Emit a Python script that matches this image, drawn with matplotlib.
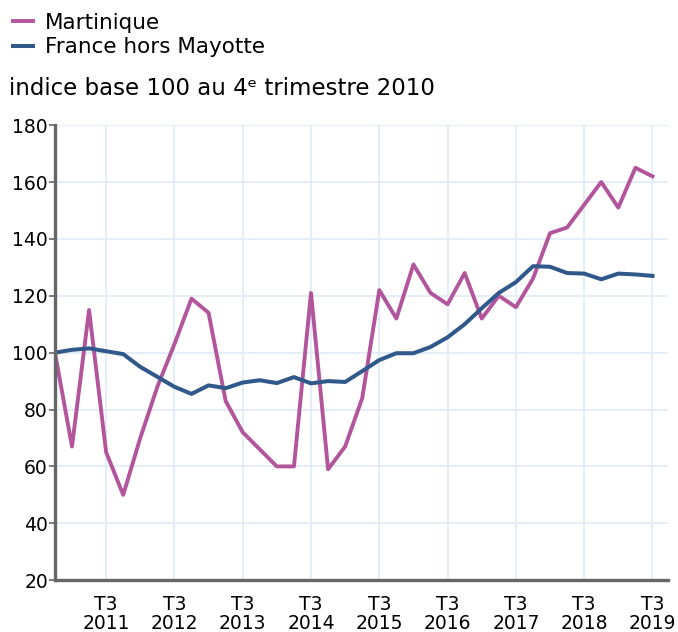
import numpy as np
import matplotlib
matplotlib.use('Agg')
import matplotlib.pyplot as plt

plt.rcParams['font.family'] = ['DejaVu Sans']

# quarters from T4 2010 to T3 2019
quarters = ['T4 2010'] + ['T%d %d' % (q, y) for y in range(2011, 2020) for q in (1, 2, 3, 4)][:35]

martinique = [100, 67, 115, 65, 50, 70, 88, 103, 119, 114,
              83, 72, 66, 60, 60, 121, 59, 67, 84, 122,
              112, 131, 121, 117, 128, 112, 120, 116, 126, 142,
              144, 152, 160, 151, 165, 162]

france = [100, 101, 101.5, 100.5, 99.5, 95, 91.5, 88, 85.5, 88.5,
          87.5, 89.5, 90.3, 89.3, 91.4, 89.2, 90, 89.7, 93.5, 97.4,
          99.8, 99.8, 102, 105.4, 110, 115.6, 121, 124.8, 130.4, 130.2,
          128, 127.8, 125.8, 127.8, 127.5, 127]

tick_labels = ['T3\n%d' % y for y in range(2011, 2020)]
y_ticks = [20, 40, 60, 80, 100, 120, 140, 160, 180]

pink = '#b3559c'
blue = '#30588b'

x = np.arange(len(martinique))

fig = plt.figure(figsize=(6.78, 6.32), dpi=100)
ax = fig.add_axes([0.081, 0.082, 0.904, 0.720])

ax.plot(x, martinique, color=pink, lw=2.8, label='Martinique')
ax.plot(x, france, color=blue, lw=2.9, label='France hors Mayotte')

ax.set_xlim(0, 35.9)
ax.set_ylim(20, 180)
ax.set_yticks(y_ticks)
ax.set_xticks(np.arange(3, 36, 4))
ax.set_xticklabels(tick_labels)

ax.grid(True, color='#e3eef8', lw=1.4)
ax.set_axisbelow(True)
for s in ['top', 'right']:
    ax.spines[s].set_visible(False)
for s in ['left', 'bottom']:
    ax.spines[s].set_color('#666666')
    ax.spines[s].set_linewidth(2.4)

ax.tick_params(axis='y', length=4, width=1.2, color='#666666', labelsize=13.5, pad=1)
ax.tick_params(axis='x', length=0, labelsize=13.5, pad=11)
for lbl in ax.get_xticklabels():
    lbl.set_linespacing(0.95)

fig.legend(loc='upper left', bbox_to_anchor=(0.0, 1.0), frameon=False,
           fontsize=15.5, handlelength=0.95, handletextpad=0.55, labelspacing=0.2,
           borderaxespad=0.2)

fig.text(0.014, 0.85, 'indice base 100 au 4\u1d49 trimestre 2010', fontsize=16.5,
         ha='left', va='baseline')

fig.savefig('out.png', dpi=100)
